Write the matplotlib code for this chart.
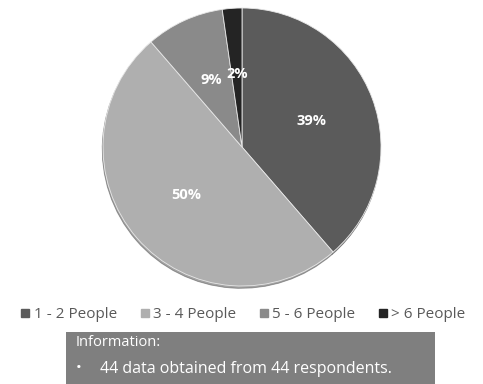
import matplotlib
matplotlib.use('Agg')
import matplotlib.pyplot as plt
from matplotlib.patches import Rectangle
from matplotlib.lines import Line2D

plt.rcParams['font.family'] = ['Open Sans', 'DejaVu Sans']

categories = ['1 - 2 People', '3 - 4 People', '5 - 6 People', '> 6 People']
counts = [17, 22, 4, 1]
colors = ['#5b5b5b', '#afafaf', '#8a8a8a', '#242424']
info_title = 'Information:'
info_line = '44 data obtained from 44 respondents.'

W, H = 483, 384
fig = plt.figure(figsize=(W / 100, H / 100), dpi=100)

# pie axes: centre (242,147), radius ~139 px
cx, cy, r = 242, 147, 139
ax = fig.add_axes([(cx - r) / W, 1 - (cy + r) / H, 2 * r / W, 2 * r / H])
wedges, texts, autotexts = ax.pie(
    counts, colors=colors, startangle=90, counterclock=False,
    autopct='%1.0f%%', pctdistance=0.53,
    shadow={'ox': -0.004, 'oy': -0.012, 'shade': 0.6},
    wedgeprops=dict(edgecolor='#e8e8e8', linewidth=0.6),
    textprops=dict(color='white', fontsize=10.5, fontweight='bold'))
ax.set_aspect('equal')
ax.set_xlim(-1.0, 1.0)
ax.set_ylim(-1.0, 1.0)
ax.axis('off')

# legend
handles = [Line2D([], [], marker='s', linestyle='none', markersize=6,
                  markerfacecolor=c, markeredgecolor=c) for c in colors]
fig.legend(handles, categories, loc='center', bbox_to_anchor=(0.5, 1 - 315 / H),
           ncol=4, frameon=False, fontsize=11, labelcolor='#595959',
           handletextpad=0.05, columnspacing=1.3, handlelength=1.0,
           borderpad=0, borderaxespad=0)

# info box
fig.patches.append(Rectangle((66 / W, 0), (435 - 66) / W, (H - 332) / H,
                             transform=fig.transFigure, facecolor='#7f7f7f',
                             edgecolor='none', zorder=0))
fig.text(76 / W, 1 - 343 / H, info_title, color='white', fontsize=10.5,
         va='center', ha='left')
fig.text(76 / W, 1 - 369 / H, '\u2022', color='white', fontsize=11,
         va='center', ha='left')
fig.text(100 / W, 1 - 369 / H, info_line, color='white', fontsize=11.5,
         va='center', ha='left')

fig.savefig('out.png', dpi=100, facecolor='white')
